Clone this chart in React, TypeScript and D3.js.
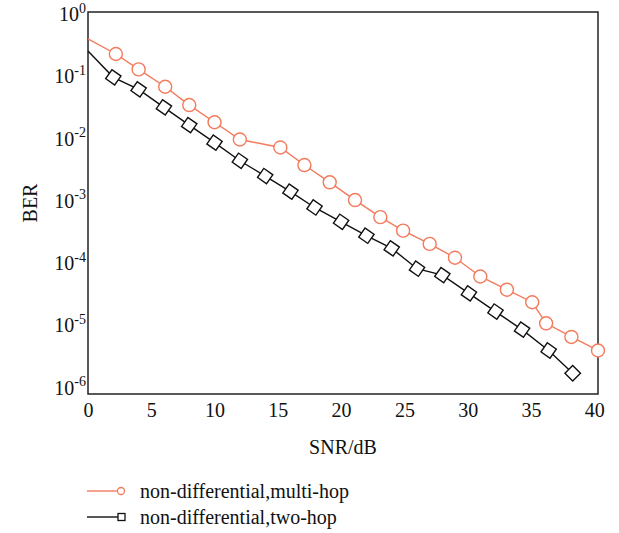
import React, { useEffect, useRef } from "react";
import * as d3 from "d3";

// SNR (dB) and BER
const multiHopSnr = [0, 2.2, 4.0, 6.1, 8.0, 10.0, 12.0, 15.2, 17.1, 19.1, 21.1, 23.1, 24.9, 27.0, 29.0, 31.0, 33.1, 35.1, 36.2, 38.2, 40.3];
const multiHopBer = [0.37, 0.212, 0.12, 0.0632, 0.0321, 0.017, 0.009, 0.0067, 0.0035, 0.00185, 9.6e-4, 5.1e-4, 3.1e-4, 1.9e-4, 1.14e-4, 5.7e-5, 3.5e-5, 2.2e-5, 1.01e-5, 6.1e-6, 3.7e-6];

const twoHopSnr = [0, 2.0, 4.0, 6.0, 8.0, 10.0, 12.0, 14.0, 16.0, 17.9, 20.0, 22.0, 24.0, 26.0, 28.0, 30.1, 32.2, 34.3, 36.4, 38.3];
const twoHopBer = [0.237, 0.0895, 0.0574, 0.0295, 0.0153, 0.008, 0.0041, 0.00233, 0.00131, 7.3e-4, 4.3e-4, 2.57e-4, 1.61e-4, 7.6e-5, 6.0e-5, 3.05e-5, 1.56e-5, 8.0e-6, 3.7e-6, 1.6e-6];

const xTicks = [0, 5, 10, 15, 20, 25, 30, 35, 40];
const yExponents = [0, -1, -2, -3, -4, -5, -6];

const seriesNames = ["non-differential,multi-hop", "non-differential,two-hop"];

const ORANGE = "#f47a5c";
const FONT = "'Liberation Serif', 'Times New Roman', serif";
const FS = 20;

export default function App() {
  const ref = useRef<SVGSVGElement>(null);
  const width = 619;
  const height = 533;

  useEffect(() => {
    const svg = d3.select(ref.current);
    svg.selectAll("*").remove();

    const x = d3.scaleLinear().domain([0, 40.3]).range([88, 598]);
    const y = d3.scaleLog().domain([Math.pow(10, -6.13), 1]).range([394, 12]);

    const multi = multiHopSnr.map((s, i) => ({ x: s, y: multiHopBer[i] }));
    const two = twoHopSnr.map((s, i) => ({ x: s, y: twoHopBer[i] }));

    const line = d3
      .line<{ x: number; y: number }>()
      .x((d) => x(d.x))
      .y((d) => y(d.y));

    // frame
    svg
      .append("rect")
      .attr("x", x(0))
      .attr("y", y.range()[1])
      .attr("width", x(40.3) - x(0))
      .attr("height", y.range()[0] - y.range()[1])
      .attr("fill", "none")
      .attr("stroke", "#222")
      .attr("stroke-width", 1.5);

    // orange series
    svg
      .append("path")
      .datum(multi)
      .attr("d", line)
      .attr("fill", "none")
      .attr("stroke", ORANGE)
      .attr("stroke-width", 1.4);

    svg
      .selectAll(".circ")
      .data(multi.slice(1))
      .join("circle")
      .attr("class", "circ")
      .attr("cx", (d) => x(d.x))
      .attr("cy", (d) => y(d.y))
      .attr("r", 6.5)
      .attr("fill", "white")
      .attr("stroke", ORANGE)
      .attr("stroke-width", 1.4);

    // black series
    svg
      .append("path")
      .datum(two)
      .attr("d", line)
      .attr("fill", "none")
      .attr("stroke", "#111")
      .attr("stroke-width", 1.4);

    const sq = 11;
    svg
      .selectAll(".sq")
      .data(two.slice(1))
      .join("rect")
      .attr("class", "sq")
      .attr("x", -sq / 2)
      .attr("y", -sq / 2)
      .attr("width", sq)
      .attr("height", sq)
      .attr("transform", (d, i) => `translate(${x(d.x)},${y(d.y)}) rotate(${i === two.length - 2 ? 45 : 35})`)
      .attr("fill", "white")
      .attr("stroke", "#111")
      .attr("stroke-width", 1.4);

    // x axis
    const xAxis = svg
      .append("g")
      .attr("transform", `translate(0,${y.range()[0]})`)
      .call(d3.axisBottom(x).tickValues(xTicks).tickSize(0).tickPadding(9));
    xAxis.select(".domain").remove();
    xAxis
      .selectAll("text")
      .attr("font-family", FONT)
      .attr("font-size", FS)
      .attr("fill", "#111");

    // y axis with superscripts
    const yAxis = svg
      .append("g")
      .attr("transform", `translate(${x(0)},0)`)
      .call(
        d3
          .axisLeft(y)
          .tickValues(yExponents.map((e) => Math.pow(10, e)))
          .tickSize(0)
          .tickPadding(2)
          .tickFormat(() => "")
      );
    yAxis.select(".domain").remove();
    yAxis
      .selectAll<SVGTextElement, number>("text")
      .attr("font-family", FONT)
      .attr("font-size", FS)
      .attr("fill", "#111")
      .attr("dy", "0.42em")
      .each(function (d) {
        const t = d3.select(this);
        t.append("tspan").text("10");
        t.append("tspan")
          .attr("font-size", 14)
          .attr("dy", "-0.6em")
          .text(String(Math.round(Math.log10(d))));
      });

    // axis titles
    svg
      .append("text")
      .attr("x", (x(0) + x(40.3)) / 2)
      .attr("y", 454)
      .attr("text-anchor", "middle")
      .attr("font-family", FONT)
      .attr("font-size", FS)
      .attr("fill", "#111")
      .text("SNR/dB");

    svg
      .append("text")
      .attr("transform", `translate(37, ${(y.range()[0] + y.range()[1]) / 2}) rotate(-90)`)
      .attr("text-anchor", "middle")
      .attr("font-family", FONT)
      .attr("font-size", FS)
      .attr("fill", "#111")
      .text("BER");

    // legend
    const legend = svg.append("g");
    const rows = [
      { name: seriesNames[0], color: ORANGE, y: 491, marker: "circle" },
      { name: seriesNames[1], color: "#111", y: 517, marker: "square" },
    ];
    rows.forEach((r) => {
      legend
        .append("line")
        .attr("x1", 87)
        .attr("x2", 118)
        .attr("y1", r.y)
        .attr("y2", r.y)
        .attr("stroke", r.color)
        .attr("stroke-width", 1.4);
      if (r.marker === "circle") {
        legend
          .append("circle")
          .attr("cx", 121)
          .attr("cy", r.y)
          .attr("r", 3.5)
          .attr("fill", "white")
          .attr("stroke", r.color)
          .attr("stroke-width", 1.3);
      } else {
        legend
          .append("rect")
          .attr("x", 118)
          .attr("y", r.y - 3.5)
          .attr("width", 7)
          .attr("height", 7)
          .attr("fill", "white")
          .attr("stroke", r.color)
          .attr("stroke-width", 1.3);
      }
      legend
        .append("text")
        .attr("x", 140)
        .attr("y", r.y)
        .attr("dy", "0.33em")
        .attr("font-family", FONT)
        .attr("font-size", FS)
        .attr("fill", "#111")
        .text(r.name);
    });
  }, []);

  return (
    <svg
      ref={ref}
      width={width}
      height={height}
      style={{ position: "absolute", left: 0, top: 0, background: "white" }}
    />
  );
}
